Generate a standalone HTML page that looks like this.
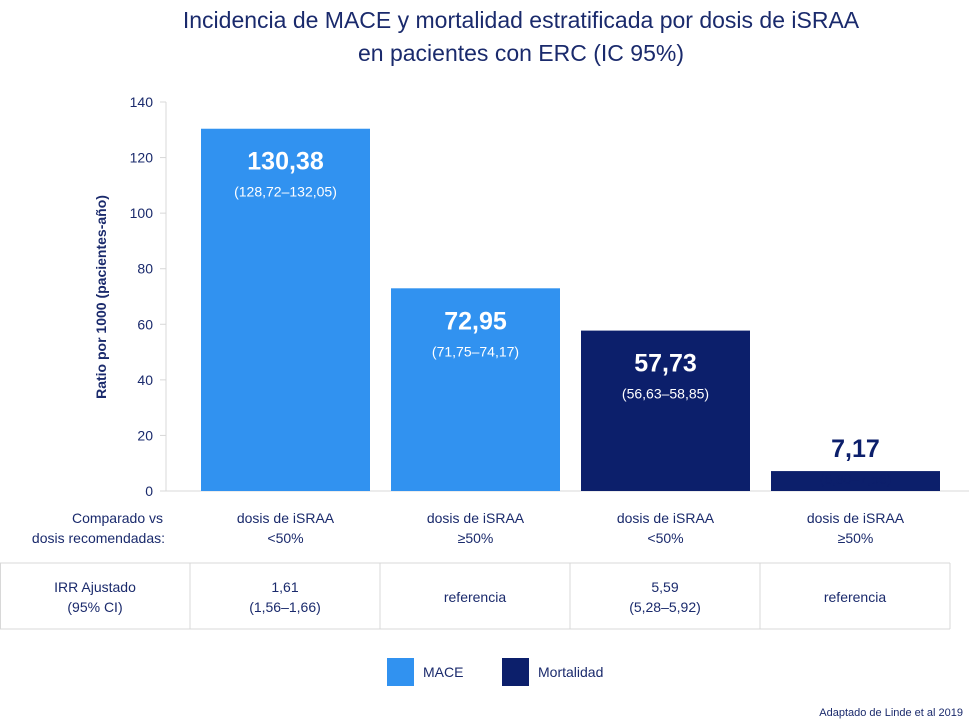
<!DOCTYPE html>
<html><head><meta charset="utf-8"><style>
body{margin:0;background:#fff;font-family:"Liberation Sans",sans-serif;}
svg text{font-family:"Liberation Sans",sans-serif;}
</style></head><body>
<svg width="969" height="722" xmlns="http://www.w3.org/2000/svg">
<g fill="#1a2a6c" font-size="23" text-anchor="middle">
<text x="521" y="28">Incidencia de MACE y mortalidad estratificada por dosis de iSRAA</text>
<text x="521" y="61">en pacientes con ERC (IC 95%)</text>
</g>
<text transform="translate(106,297) rotate(-90)" text-anchor="middle" font-size="14" font-weight="bold" fill="#1a2a6c">Ratio por 1000 (pacientes-año)</text>
<g id="axis"></g>
<g id="bars"></g>
<g stroke="#d8d8d8" fill="none">
<line x1="0" y1="563" x2="950" y2="563"/><line x1="0" y1="629" x2="950" y2="629"/>
<line x1="0.5" y1="563" x2="0.5" y2="629"/><line x1="190" y1="563" x2="190" y2="629"/>
<line x1="380" y1="563" x2="380" y2="629"/><line x1="570" y1="563" x2="570" y2="629"/>
<line x1="760" y1="563" x2="760" y2="629"/><line x1="950" y1="563" x2="950" y2="629"/>
</g>
<g fill="#1a2a6c" font-size="14" text-anchor="middle">
<text x="163" y="523" text-anchor="end">Comparado vs</text>
<text x="165" y="543" text-anchor="end">dosis recomendadas:</text>
<text x="95" y="592">IRR Ajustado</text><text x="95" y="612">(95% CI)</text>
<text x="285" y="592">1,61</text><text x="285" y="612">(1,56–1,66)</text>
<text x="475" y="602">referencia</text>
<text x="665" y="592">5,59</text><text x="665" y="612">(5,28–5,92)</text>
<text x="855" y="602">referencia</text>
</g>
<g font-size="14" fill="#1a2a6c">
<rect x="387" y="658" width="27" height="28" fill="#3192f0"/>
<text x="423" y="677">MACE</text>
<rect x="502" y="658" width="27" height="28" fill="#0c1f6b"/>
<text x="538" y="677">Mortalidad</text>
</g>
<text x="963" y="716" text-anchor="end" font-size="11" fill="#1a2a6c">Adaptado de Linde et al 2019</text>
</svg>
<script>
const categories=["dosis de iSRAA|<50%","dosis de iSRAA|≥50%","dosis de iSRAA|<50%","dosis de iSRAA|≥50%"];
const values=[130.38,72.95,57.73,7.17];
const valueLabels=["130,38","72,95","57,73","7,17"];
const ciLabels=["(128,72–132,05)","(71,75–74,17)","(56,63–58,85)","(6,80–7,56)"];
const series=["MACE","MACE","Mortalidad","Mortalidad"];
const ticks=[0,20,40,60,80,100,120,140];
const NS="http://www.w3.org/2000/svg";
const y=v=>491-v*(389/140);
const x=i=>201+i*190;
const bw=169;
function mk(tag,attrs,parent,txt){const e=document.createElementNS(NS,tag);for(const k in attrs)e.setAttribute(k,attrs[k]);if(txt!==undefined)e.textContent=txt;parent.appendChild(e);return e;}
const ax=document.getElementById('axis');
let l=mk('line',{x1:166,y1:y(140),x2:166,y2:491,stroke:'#d8d8d8'},ax);


l=mk('line',{x1:160,y1:491,x2:969,y2:491,stroke:'#d8d8d8'},ax);


ticks.forEach(t=>{const tk=mk('line',{x1:160,y1:y(t),x2:166,y2:y(t),stroke:'#d8d8d8'},ax);


const tl=mk('text',{x:153,y:y(t)+5,'text-anchor':'end','font-size':14,fill:'#1a2a6c'},ax,String(t));

});
const bg=document.getElementById('bars');
values.forEach((v,i)=>{
const col=series[i]==="MACE"?"#3192f0":"#0c1f6b";
const r=mk('rect',{x:x(i),y:y(v),width:bw,height:491-y(v),fill:col},bg);


const cx=x(i)+bw/2;
const big=v>30;
const ty=big?y(v)+41:y(v)-14;
const fc=big?"#fff":"#0c1f6b";
const t1=mk('text',{x:cx,y:ty,'text-anchor':'middle','font-size':25,'font-weight':'bold',fill:fc},bg,valueLabels[i]);


const t2=mk('text',{x:cx,y:ty+27,'text-anchor':'middle','font-size':14,fill:fc},bg,ciLabels[i]);


const parts=categories[i].split('|');
const c1=mk('text',{x:cx,y:523,'text-anchor':'middle','font-size':14,fill:'#1a2a6c'},bg,parts[0]);


const c2=mk('text',{x:cx,y:543,'text-anchor':'middle','font-size':14,fill:'#1a2a6c'},bg,parts[1]);


});
</script>
</body></html>
